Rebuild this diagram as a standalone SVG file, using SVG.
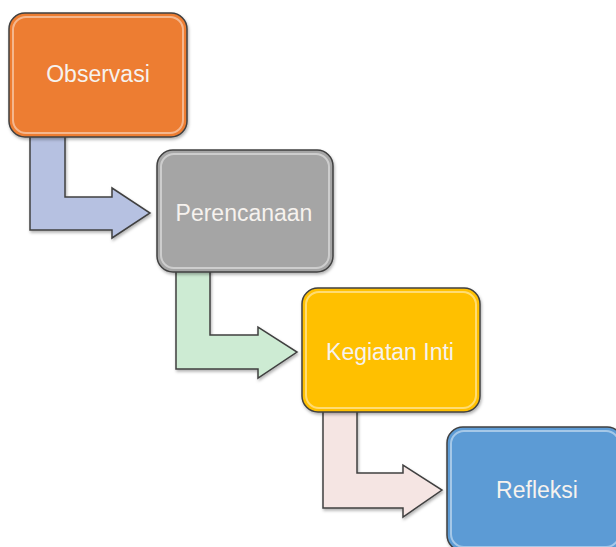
<svg xmlns="http://www.w3.org/2000/svg" width="616" height="547" viewBox="0 0 616 547">
<style>
.box{stroke:#404040;stroke-width:1.5}
.hl{fill:none;stroke:#ffffff;stroke-opacity:0.45;stroke-width:2}
.arr{stroke:#404040;stroke-width:1.5;stroke-linejoin:miter}
.lbl{font-family:"Liberation Sans",Arial,sans-serif;font-size:23px;fill:#f6f2ee;text-anchor:middle;dominant-baseline:central}
</style>
<defs>
<filter id="sh" x="-10%" y="-10%" width="130%" height="130%">
<feDropShadow dx="1" dy="2" stdDeviation="1.5" flood-color="#000" flood-opacity="0.3"/>
</filter>
</defs>
<g id="connectors">
<path class="arr" fill="#b6c1e1" filter="url(#sh)" d="M30,130 L65,130 L65,197 L112,197 L112,188 L150,213 L112,238 L112,230 L30,230 Z"/>
<path class="arr" fill="#cdebd3" filter="url(#sh)" d="M176,265 L210,265 L210,335 L258,335 L258,327 L297,352 L258,378 L258,369 L176,369 Z"/>
<path class="arr" fill="#f5e5e3" filter="url(#sh)" d="M323,405 L357,405 L357,473 L403,473 L403,465 L442,490 L403,517 L403,508 L323,508 Z"/>
</g>
<g id="node-observasi">
<rect class="box" x="9" y="13" width="178" height="124" rx="16" fill="#ed7d31" filter="url(#sh)"/>
<rect class="hl" x="13" y="17" width="170" height="116" rx="13"/>
<text class="lbl" x="98" y="74">Observasi</text>
</g>
<g id="node-perencanaan">
<rect class="box" x="157" y="150" width="176" height="122" rx="16" fill="#a5a5a5" filter="url(#sh)"/>
<rect class="hl" x="161" y="154" width="168" height="114" rx="13"/>
<text class="lbl" x="244" y="213">Perencanaan</text>
</g>
<g id="node-kegiatan">
<rect class="box" x="302" y="288" width="178" height="124" rx="16" fill="#ffc000" filter="url(#sh)"/>
<rect class="hl" x="306" y="292" width="170" height="116" rx="13"/>
<text class="lbl" x="390" y="352">Kegiatan Inti</text>
</g>
<g id="node-refleksi">
<rect class="box" x="447" y="427" width="176" height="124" rx="16" fill="#5b9bd5" filter="url(#sh)"/>
<rect class="hl" x="451" y="431" width="168" height="116" rx="13"/>
<text class="lbl" x="537" y="490">Refleksi</text>
</g>
</svg>
